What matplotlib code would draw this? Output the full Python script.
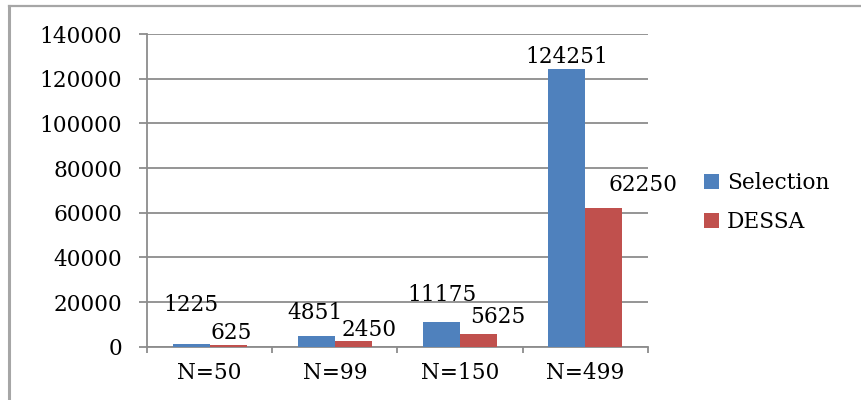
import matplotlib
matplotlib.use("Agg")
import matplotlib.pyplot as plt
from matplotlib.lines import Line2D
import numpy as np

# data
categories = ["N=50", "N=99", "N=150", "N=499"]
selection = [1225, 4851, 11175, 124251]
dessa = [625, 2450, 5625, 62250]
series_names = ["Selection", "DESSA"]

# hand-placed label nudges (pixels) as in the original
sel_nudge = [(0, 39), (-1, 23), (0, 27), (0, 12)]
des_nudge = [(3, 12), (16, 11), (19, 17), (39, 23)]

BLUE = "#4F81BD"
RED = "#C0504D"
GRID = "#8C8C8C"

plt.rcParams["font.family"] = ["DejaVu Serif"]
FS = 15.6

fig = plt.figure(figsize=(8.62, 4.0), dpi=100)
ax = fig.add_axes([147 / 862, 53.3 / 400, 501 / 862, 312.7 / 400])

x = np.arange(len(categories))
w = 0.295
b1 = ax.bar(x - w / 2, selection, w, color=BLUE, label=series_names[0], zorder=3)
b2 = ax.bar(x + w / 2, dessa, w, color=RED, label=series_names[1], zorder=3)

for i in range(len(categories)):
    ax.annotate(str(selection[i]), (x[i] - w / 2, selection[i]),
                xytext=sel_nudge[i], textcoords="offset pixels",
                ha="center", va="center", fontsize=FS, color="black", zorder=4)
    ax.annotate(str(dessa[i]), (x[i] + w / 2, dessa[i]),
                xytext=des_nudge[i], textcoords="offset pixels",
                ha="center", va="center", fontsize=FS, color="black", zorder=4)

ax.set_xlim(-0.5, len(categories) - 0.5)
ax.set_ylim(0, 140000)
ax.set_yticks(np.arange(0, 140001, 20000))
ax.yaxis.grid(True, color=GRID, linewidth=1.3, zorder=0)
ax.set_axisbelow(True)

ax.set_xticks(x)
ax.set_xticklabels(categories)
ax.set_xticks(np.arange(-0.5, len(categories)), minor=True)
ax.tick_params(axis="x", which="major", length=0, pad=11, labelsize=FS)
ax.tick_params(axis="x", which="minor", length=4, width=1.3, color=GRID)
ax.tick_params(axis="y", length=6, width=1.3, color=GRID, pad=12, labelsize=FS)

for s in ["top", "right"]:
    ax.spines[s].set_visible(False)
for s in ["left", "bottom"]:
    ax.spines[s].set_color(GRID)
    ax.spines[s].set_linewidth(1.3)

fig.legend(handles=[b1, b2], labels=series_names, loc="center left",
           bbox_to_anchor=(704 / 862, 197.5 / 400), frameon=False,
           fontsize=FS, borderpad=0, borderaxespad=0, handlelength=0.7,
           handleheight=0.7, handletextpad=0.35, labelspacing=0.8)

# outer frame (only left and top edges visible in the crop)
fig.add_artist(Line2D([9.5 / 862, 9.5 / 862], [0, 1 - 5.5 / 400],
                      transform=fig.transFigure, color="#A6A6A6", lw=2.2))
fig.add_artist(Line2D([9.5 / 862, 1], [1 - 5.5 / 400, 1 - 5.5 / 400],
                      transform=fig.transFigure, color="#A6A6A6", lw=1.6))

fig.savefig("out.png", dpi=100)
